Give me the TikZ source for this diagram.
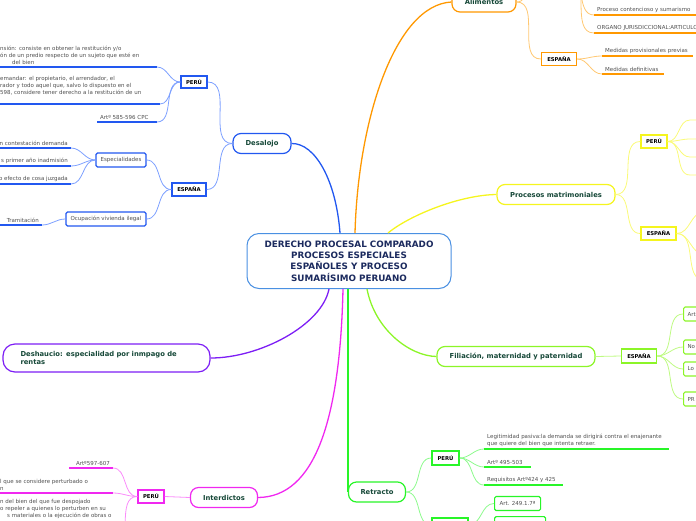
\documentclass[tikz,border=0pt]{standalone}
\usepackage{fontspec}
\setmainfont{DejaVu Sans}
\usepackage{tikz}
\definecolor{RootB}{RGB}{ 74,144,226}
\definecolor{Navy}{RGB}{ 27, 42, 94}
\definecolor{TopT}{RGB}{ 22, 72, 56}
\definecolor{LeafT}{RGB}{ 80, 80, 80}
\definecolor{Bl}{RGB}{ 34, 88,240}
\definecolor{BlL}{RGB}{125,160,255}
\definecolor{Or}{RGB}{255,152,  0}
\definecolor{OrL}{RGB}{255,200,115}
\definecolor{Ye}{RGB}{245,245, 30}
\definecolor{YeL}{RGB}{250,250,120}
\definecolor{Lg}{RGB}{140,245, 40}
\definecolor{LgL}{RGB}{190,250,130}
\definecolor{Gr}{RGB}{ 40,245, 40}
\definecolor{GrL}{RGB}{140,250,140}
\definecolor{Mg}{RGB}{240, 40,240}
\definecolor{MgL}{RGB}{250,140,250}
\definecolor{Pu}{RGB}{125, 30,245}

\begin{document}
\begin{tikzpicture}[x=1pt, y=-1pt,
    root/.style={draw=RootB, line width=1pt, rounded corners=12pt, fill=white,
        text=Navy, font=\fontsize{8.8}{11.2}\selectfont\bfseries, align=center,
        minimum width=204pt, minimum height=55pt, inner sep=0pt},
    topic/.style={draw=#1, line width=1.2pt, rounded corners=8pt, fill=white,
        text=TopT, font=\fontsize{6.8}{8.6}\selectfont\bfseries,
        minimum height=20pt, inner sep=0pt},
    land/.style={draw=#1, line width=1.5pt, fill=white,
        font=\fontsize{5.3}{6}\selectfont\bfseries, minimum height=13pt, inner sep=0pt},
    tbox/.style={draw=#1, line width=1.2pt, rounded corners=1.5pt, fill=white,
        text=LeafT, font=\fontsize{5.5}{7}\selectfont, minimum height=14pt,
        inner xsep=4pt, inner ysep=0pt},
    leaf/.style={anchor=south west, text=LeafT, font=\fontsize{5.5}{7}\selectfont,
        align=left, inner xsep=3pt, inner ysep=2.5pt},
    leafr/.style={leaf, anchor=south east, align=right},
    uline/.style={draw=#1, line width=1.8pt},
    link/.style={draw=#1, line width=0.8pt},
    branch/.style={draw=#1, line width=1.3pt},
]
    \useasboundingbox (0,0) rectangle (696,520);
    \clip (0,0) rectangle (696,520);

    %% Central topic
    \node[root] (root) at (349,261)
        {DERECHO PROCESAL COMPARADO\\PROCESOS ESPECIALES\\ESPAÑOLES Y PROCESO\\SUMARÍSIMO PERUANO};

    %% --- Alimentos (top, partly off the page) ---
    \node[topic=Or, minimum width=64pt] (alim) at (484,2) {Alimentos};
    \coordinate (alPeruW) at (541,-25);
    \coordinate (alPeruE) at (568,-25);
    \node[land=Or, minimum width=35pt] (alEsp) at (559,59) {ESPAÑA};
    \node[leaf] (alProc) at (594,15) {Proceso contencioso y sumarismo};
    \node[leaf] (alOrg) at (594,33) {ORGANO JURISDICCIONAL:ARTICULO};
    \node[leaf] (alProv) at (602,56) {Medidas provisionales previas};
    \node[leaf] (alDef) at (602,74) {Medidas definitivas};
    \draw[uline=Or] (alProc.south west) -- ++(110,0);
    \draw[uline=Or] (alOrg.south west) -- ++(110,0);
    \draw[uline=Or] (alProv.south west) -- ++(91,0);
    \draw[uline=Or] (alDef.south west) -- ++(62,0);

    \draw[branch=Or] ([xshift=6pt]root.north) .. controls (358,120) and (395,5) .. (alim.west);
    \draw[link=OrL] (alim.east) to[out=0,in=180] (alPeruW);
    \draw[link=OrL] (alim.east) to[out=0,in=180] (alEsp.west);
    \draw[link=OrL] (alPeruE) to[out=0,in=180] (alProc.south west);
    \draw[link=OrL] (alPeruE) to[out=0,in=180] (alOrg.south west);
    \draw[link=OrL] (alEsp.east) to[out=0,in=180] (alProv.south west);
    \draw[link=OrL] (alEsp.east) to[out=0,in=180] (alDef.south west);

    %% --- Desalojo ---
    \node[topic=Bl, minimum width=58pt] (deso) at (262,143.5) {Desalojo};
    \node[land=Bl, minimum width=26pt, minimum height=12pt] (dPeru) at (194,82) {PERÚ};
    \node[land=Bl, minimum width=34pt] (dEsp) at (189,189.5) {ESPAÑA};
    \node[leaf] (dPa) at (-3,67) {nsión: consiste en obtener la restitución y/o\\ón de un predio respecto de un sujeto que esté en\\\makebox[12pt][l]{}del bien};
    \node[leaf] (dPb) at (-3,98) {emandar: el propietario, el arrendador, el\\rador y todo aquel que, salvo lo dispuesto en el\\598, considere tener derecho a la restitución de un};
    \node[leaf] (dPc) at (97,122) {Artº 585-596 CPC};
    \draw[uline=Bl] (dPa.south west) -- ++(160,0) coordinate (dPaEnd);
    \draw[uline=Bl] ([yshift=-6pt]dPb.south west) -- ++(163,0) coordinate (dPbEnd);
    \draw[uline=Bl] (dPc.south west) -- ++(60,0) coordinate (dPcEnd);

    \node[tbox=Bl, minimum width=50pt] (dEspec) at (121,160) {Especialidades};
    \node[tbox=Bl, minimum width=80pt] (dOcup) at (106,219) {Ocupación vivienda ilegal};
    \node[leafr] (eA) at (71,148) {n contestación demanda};
    \node[leafr] (eB) at (71,166) {s primer año inadmisión};
    \node[leafr] (eC) at (71,184) {o efecto de cosa juzgada};
    \node[leafr] (oA) at (42,225) {Tramitación};
    \draw[uline=Bl] (eA.south east) -- ++(-75,0);
    \draw[uline=Bl] (eB.south east) -- ++(-75,0);
    \draw[uline=Bl] (eC.south east) -- ++(-75,0);
    \draw[uline=Bl] (oA.south east) -- ++(-45,0);

    \draw[branch=Bl] ([xshift=-9pt]root.north) .. controls (336,180) and (315,143) .. (deso.east);
    \draw[link=BlL] (deso.west) to[out=180,in=0] (dPeru.east);
    \draw[link=BlL] (deso.west) to[out=180,in=0] (dEsp.east);
    \draw[link=BlL] (dPeru.west) to[out=180,in=0] (dPaEnd);
    \draw[link=BlL] (dPeru.west) to[out=180,in=0] (dPbEnd);
    \draw[link=BlL] (dPeru.west) to[out=180,in=0] (dPcEnd);
    \draw[link=BlL] (dEsp.west) to[out=180,in=0] (dEspec.east);
    \draw[link=BlL] (dEsp.west) to[out=180,in=0] (dOcup.east);
    \draw[link=BlL] (dEspec.west) to[out=180,in=0] (eA.south east);
    \draw[link=BlL] (dEspec.west) to[out=180,in=0] (eB.south east);
    \draw[link=BlL] (dEspec.west) to[out=180,in=0] (eC.south east);
    \draw[link=BlL] (dOcup.west) to[out=180,in=0] (oA.south east);

    %% --- Procesos matrimoniales ---
    \node[topic=Ye, minimum width=118pt] (matr) at (556,194.5) {Procesos matrimoniales};
    \node[land=Ye, minimum width=26pt] (mPeru) at (654,141.5) {PERÚ};
    \node[land=Ye, minimum width=35pt] (mEsp) at (658.5,233.5) {ESPAÑA};
    \coordinate (mP1) at (690,120);
    \coordinate (mP2) at (690,139);
    \coordinate (mP3) at (690,157);
    \coordinate (mP4) at (690,175);
    \coordinate (mE1) at (704,212);
    \coordinate (mE2) at (704,254);
    \coordinate (mE3) at (704,280);

    \draw[branch=Ye] ([xshift=39pt]root.north) .. controls (410,215) and (460,195) .. (matr.west);
    \draw[link=YeL] (matr.east) to[out=0,in=180] (mPeru.west);
    \draw[link=YeL] (matr.east) to[out=0,in=180] (mEsp.west);
    \foreach \k in {1,...,4}
        \draw[link=YeL] (mPeru.east) to[out=0,in=180] (mP\k) -- ++(12,0);
    \foreach \k in {1,2,3}
        \draw[link=YeL] (mEsp.east) to[out=0,in=180] (mE\k);

    %% --- Filiacion ---
    \node[topic=Lg, minimum width=158pt] (filia) at (516,356.5) {Filiación, maternidad y paternidad};
    \node[land=Lg, minimum width=35pt, minimum height=14pt] (fEsp) at (639,356) {ESPAÑA};
    \node[tbox=Lg, anchor=west, text width=34pt, align=left] (fA) at (683,314) {Art};
    \node[tbox=Lg, anchor=west, text width=34pt, align=left] (fB) at (683,347) {No};
    \node[tbox=Lg, anchor=west, text width=34pt, align=left] (fC) at (683,369) {Lo};
    \node[tbox=Lg, anchor=west, text width=34pt, align=left] (fD) at (683,399) {PR};

    \draw[branch=Lg] ([xshift=18pt]root.south) .. controls (375,330) and (410,356) .. (filia.west);
    \draw[link=LgL] (filia.east) -- (fEsp.west);
    \foreach \b in {fA,fB,fC,fD}
        \draw[link=LgL] (fEsp.east) to[out=0,in=180] (\b.west);

    %% --- Retracto ---
    \node[topic=Gr, minimum width=57pt] (ret) at (377,492) {Retracto};
    \node[land=Gr, minimum width=27pt, minimum height=14pt] (rPeru) at (445.5,458) {PERÚ};
    \node[land=Gr, minimum width=36pt, minimum height=14pt] (rEsp) at (450,525) {ESPAÑA};
    \node[leaf] (rLeg) at (484,449) {Legitimidad pasiva:la demanda se dirigirá contra el enajenante\\que quiere del bien que intenta retraer.};
    \node[leaf] (rArt) at (484,467) {Artº 495-503};
    \node[leaf] (rReq) at (484,485) {Requisitos Artº424 y 425};
    \draw[uline=Gr] (rLeg.south west) -- ++(185,0);
    \draw[uline=Gr] (rArt.south west) -- ++(47,0);
    \draw[uline=Gr] (rReq.south west) -- ++(79,0);
    \node[tbox=Gr, minimum width=46pt, anchor=west] (rEa) at (494,503.5) {Art. 249.1.7ª};
    \node[tbox=Gr, minimum width=51pt, anchor=north west] (rEb) at (494,516) {};

    \draw[branch=Gr] (ret.west |- root.south) -- (ret.west);
    \draw[link=GrL] (ret.east) to[out=0,in=180] (rPeru.west);
    \draw[link=GrL] (ret.east) to[out=0,in=180] (rEsp.west);
    \draw[link=GrL] (rPeru.east) to[out=0,in=180] (rLeg.south west);
    \draw[link=GrL] (rPeru.east) to[out=0,in=180] (rArt.south west);
    \draw[link=GrL] (rPeru.east) to[out=0,in=180] (rReq.south west);
    \draw[link=GrL] (rEsp.east) to[out=0,in=180] (rEa.west);
    \draw[link=GrL] (rEsp.east) to[out=0,in=180] (rEb.west);

    %% --- Interdictos ---
    \node[topic=Mg, minimum width=67pt] (interd) at (224,497.5) {Interdictos};
    \node[land=Mg, minimum width=26pt] (iPeru) at (151,496.5) {PERÚ};
    \node[leafr] (iA) at (113,468) {Artº597-607};
    \node[leaf] (iB) at (-3,493) {l que se considere perturbado o\\n};
    \node[leaf, anchor=north west] (iC) at (-3,497) {n del bien del que fue despojado\\o repeler a quienes lo perturben en su\\\makebox[7pt][l]{}s materiales o la ejecución de obras o};
    \coordinate (iCEnd) at (113,548);
    \draw[uline=Mg] (iA.south east) -- ++(-44,0);
    \draw[uline=Mg] (iB.south west) -- ++(116,0) coordinate (iBEnd);
    \draw[uline=Mg] (iCEnd) -- ++(-116,0);

    \draw[branch=Mg] ([xshift=-6pt]root.south) .. controls (340,420) and (315,497) .. (interd.east);
    \draw[link=MgL] (interd.west) -- (iPeru.east);
    \draw[link=MgL] (iPeru.west) to[out=180,in=0] (iA.south east);
    \draw[link=MgL] (iPeru.west) to[out=180,in=0] (iBEnd);
    \draw[link=MgL] (iPeru.west) to[out=180,in=0] (iCEnd);

    %% --- Deshaucio ---
    \node[topic=Pu, minimum width=207pt, minimum height=28pt, rounded corners=12pt,
        text width=172pt, align=left] (desh) at (106.5,358)
        {Deshaucio: especialidad por inmpago de\\rentas};
    \draw[branch=Pu] ([xshift=-20pt]root.south) .. controls (322,325) and (260,358) .. (desh.east);

\end{tikzpicture}
\end{document}
